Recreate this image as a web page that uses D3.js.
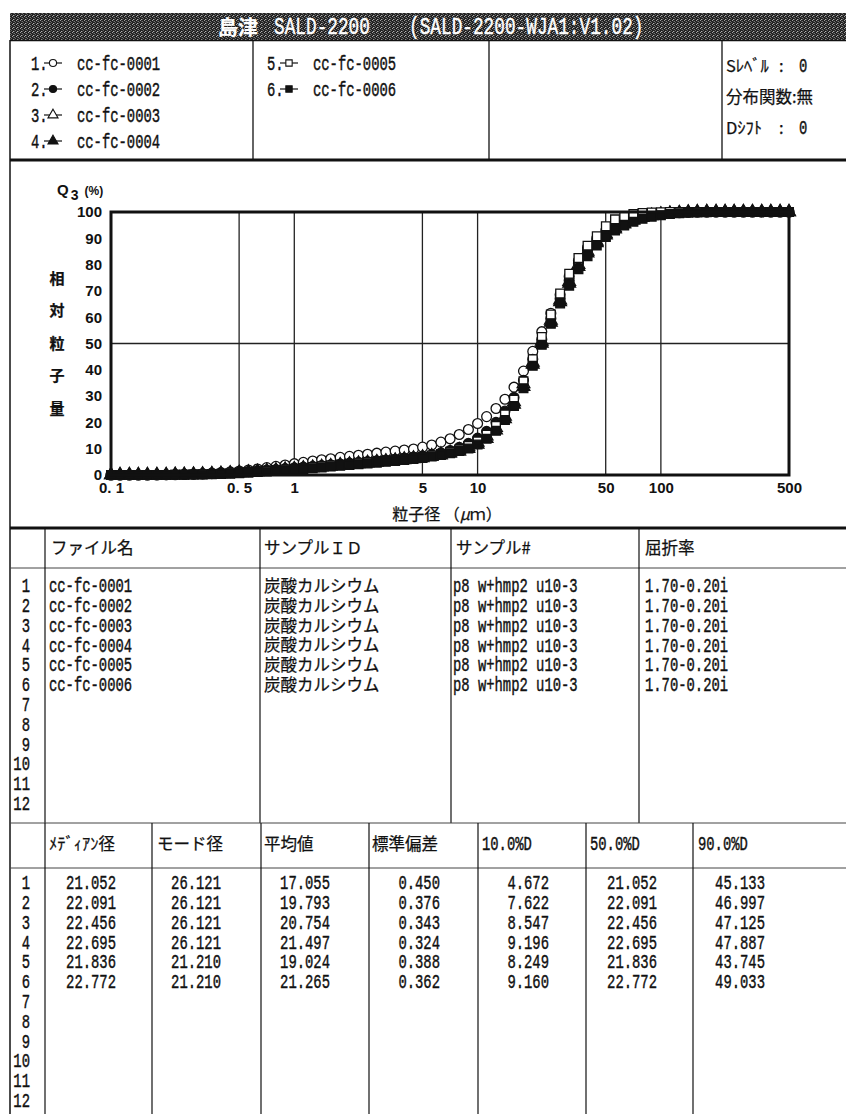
<!DOCTYPE html>
<html lang="ja">
<head>
<meta charset="utf-8">
<title>SALD-2200</title>
<script src="https://cdn.jsdelivr.net/npm/d3@7"></script>
<style>
  html, body { margin: 0; padding: 0; background: #fff; }
  svg { display: block; }
  .tick text { font-family: "Liberation Sans", Arial, sans-serif; font-weight: bold; font-size: 15px; fill: #111; }
</style>
</head>
<body>
<div id="chart"></div>
<script>
// 粒子径 (µm)
const sizes = [0.1, 0.112, 0.126, 0.141, 0.158, 0.178, 0.2, 0.224, 0.251, 0.282, 0.316, 0.355, 0.398, 0.447, 0.501,
  0.562, 0.631, 0.708, 0.794, 0.891, 1.0, 1.12, 1.26, 1.41, 1.58, 1.78, 2.0, 2.24, 2.51, 2.82,
  3.16, 3.55, 3.98, 4.47, 5.01, 5.62, 6.31, 7.08, 7.94, 8.91, 10, 11.2, 12.6, 14.1, 15.8,
  17.8, 20, 22.4, 25.1, 28.2, 31.6, 35.5, 39.8, 44.7, 50.1, 56.2, 63.1, 70.8, 79.4, 89.1,
  100, 112, 126, 141, 158, 178, 200, 224, 251, 282, 316, 355, 398, 447, 500];

// Q3 (%) 積算分布
const q3_1 = [0, 0, 0, 0, 0, 0.1, 0.1, 0.2, 0.3, 0.4, 0.5, 0.7, 0.9, 1.2, 1.5,
  1.9, 2.3, 2.8, 3.3, 3.8, 4.3, 4.8, 5.3, 5.8, 6.2, 6.7, 7.1, 7.5, 7.9, 8.3,
  8.7, 9.1, 9.5, 9.9, 10.6, 11.4, 12.5, 13.8, 15.4, 17.3, 19.6, 22.2, 25.3, 28.8, 33.4,
  39.5, 47.0, 54.5, 61.5, 68.5, 75.5, 81.5, 86.5, 90.0, 93.0, 95.3, 96.9, 98.0, 98.7, 99.2,
  99.5, 99.7, 99.9, 100, 100, 100, 100, 100, 100, 100, 100, 100, 100, 100, 100];
const q3_2 = [0, 0, 0, 0, 0, 0, 0.1, 0.1, 0.2, 0.3, 0.4, 0.5, 0.7, 0.9, 1.1,
  1.3, 1.6, 1.9, 2.1, 2.4, 2.7, 3.0, 3.3, 3.6, 3.9, 4.2, 4.5, 4.8, 5.1, 5.4,
  5.7, 6.0, 6.4, 6.8, 7.2, 7.7, 8.4, 9.3, 10.5, 12.0, 14.0, 16.6, 20.0, 24.3, 29.5,
  36.0, 44.0, 51.5, 59.5, 67.0, 74.0, 80.5, 85.5, 89.0, 91.8, 94.0, 95.8, 97.0, 98.0, 98.7,
  99.2, 99.5, 99.7, 99.9, 100, 100, 100, 100, 100, 100, 100, 100, 100, 100, 100];
const q3_3 = [0, 0, 0, 0, 0, 0, 0, 0.1, 0.1, 0.2, 0.3, 0.4, 0.5, 0.7, 0.9,
  1.1, 1.3, 1.6, 1.8, 2.1, 2.3, 2.6, 2.9, 3.2, 3.5, 3.8, 4.1, 4.4, 4.7, 5.0,
  5.3, 5.6, 6.0, 6.4, 6.8, 7.3, 7.9, 8.6, 9.5, 10.7, 12.4, 14.8, 18.0, 22.3, 27.8,
  34.6, 42.8, 50.8, 58.8, 66.5, 73.5, 80.0, 85.0, 88.8, 91.7, 93.9, 95.7, 97.0, 98.0, 98.7,
  99.2, 99.5, 99.7, 99.9, 100, 100, 100, 100, 100, 100, 100, 100, 100, 100, 100];
const q3_4 = [0, 0, 0, 0, 0, 0, 0, 0.1, 0.1, 0.2, 0.2, 0.3, 0.4, 0.6, 0.8,
  1.0, 1.2, 1.4, 1.6, 1.9, 2.1, 2.4, 2.7, 3.0, 3.3, 3.6, 3.9, 4.2, 4.5, 4.8,
  5.1, 5.4, 5.7, 6.1, 6.5, 7.0, 7.5, 8.2, 9.0, 10.0, 11.6, 13.8, 17.0, 21.3, 26.8,
  33.6, 42.0, 50.0, 58.0, 65.8, 72.8, 79.2, 84.3, 88.2, 91.2, 93.5, 95.4, 96.8, 97.8, 98.5,
  99.0, 99.4, 99.6, 99.8, 99.9, 100, 100, 100, 100, 100, 100, 100, 100, 100, 100];
const q3_5 = [0, 0, 0, 0, 0, 0, 0, 0.1, 0.1, 0.2, 0.3, 0.4, 0.5, 0.7, 0.9,
  1.1, 1.3, 1.6, 1.9, 2.1, 2.4, 2.7, 3.0, 3.3, 3.6, 3.9, 4.2, 4.5, 4.8, 5.1,
  5.4, 5.7, 6.1, 6.5, 6.9, 7.4, 8.0, 8.8, 9.7, 11.0, 12.8, 15.3, 18.6, 23.0, 28.6,
  35.6, 44.0, 52.5, 61.0, 69.0, 76.5, 82.5, 87.2, 90.8, 94.6, 97.2, 98.5, 99.2, 99.6, 99.8,
  99.9, 100, 100, 100, 100, 100, 100, 100, 100, 100, 100, 100, 100, 100, 100];
const q3_6 = [0, 0, 0, 0, 0, 0, 0, 0.1, 0.1, 0.2, 0.2, 0.3, 0.4, 0.5, 0.7,
  0.9, 1.1, 1.3, 1.5, 1.8, 2.0, 2.3, 2.6, 2.9, 3.2, 3.5, 3.8, 4.1, 4.4, 4.7,
  5.0, 5.3, 5.7, 6.1, 6.5, 7.0, 7.6, 8.3, 9.1, 10.1, 11.6, 13.8, 16.8, 20.9, 26.2,
  33.0, 41.5, 49.5, 57.5, 65.2, 72.0, 78.2, 83.2, 87.3, 90.5, 93.0, 94.9, 96.3, 97.4, 98.2,
  98.8, 99.2, 99.5, 99.7, 99.8, 99.9, 100, 100, 100, 100, 100, 100, 100, 100, 100];

const fileNames = ["cc-fc-0001", "cc-fc-0002", "cc-fc-0003", "cc-fc-0004", "cc-fc-0005", "cc-fc-0006"];
const sampleIds = ["炭酸カルシウム", "炭酸カルシウム", "炭酸カルシウム", "炭酸カルシウム", "炭酸カルシウム", "炭酸カルシウム"];
const sampleNos = ["p8 w+hmp2 u10-3", "p8 w+hmp2 u10-3", "p8 w+hmp2 u10-3", "p8 w+hmp2 u10-3", "p8 w+hmp2 u10-3", "p8 w+hmp2 u10-3"];
const refIndex = ["1.70-0.20i", "1.70-0.20i", "1.70-0.20i", "1.70-0.20i", "1.70-0.20i", "1.70-0.20i"];

const medians = ["21.052", "22.091", "22.456", "22.695", "21.836", "22.772"];
const modes = ["26.121", "26.121", "26.121", "26.121", "21.210", "21.210"];
const means = ["17.055", "19.793", "20.754", "21.497", "19.024", "21.265"];
const stdDevs = ["0.450", "0.376", "0.343", "0.324", "0.388", "0.362"];
const d10 = ["4.672", "7.622", "8.547", "9.196", "8.249", "9.160"];
const d50 = ["21.052", "22.091", "22.456", "22.695", "21.836", "22.772"];
const d90 = ["45.133", "46.997", "47.125", "47.887", "43.745", "49.033"];

const xTicks = [0.1, 0.5, 1, 5, 10, 50, 100, 500];
const xTickLabels = ["0. 1", "0. 5", "1", "5", "10", "50", "100", "500"];
const yTicks = [0, 10, 20, 30, 40, 50, 60, 70, 80, 90, 100];
const xGrid = [0.5, 1, 5, 10, 50, 100];
const yGrid = [50];

const table1Heads = ["ファイル名", "サンプルＩＤ", "サンプル#", "屈折率"];
const table2Heads = ["ﾒﾃﾞｨｱﾝ径", "モード径", "平均値", "標準偏差", "10.0%D", "50.0%D", "90.0%D"];

const series = [q3_1, q3_2, q3_3, q3_4, q3_5, q3_6];
const symbols = [d3.symbolCircle, d3.symbolCircle, d3.symbolTriangle, d3.symbolTriangle, d3.symbolSquare, d3.symbolSquare];
const filled = [false, true, false, true, false, true];

const W = 846, H = 1114;
const svg = d3.select("#chart").append("svg").attr("width", W).attr("height", H);
svg.append("rect").attr("width", W).attr("height", H).attr("fill", "#fff");

// 網掛け（タイトル帯）
const pat = svg.append("defs").append("pattern")
  .attr("id", "screen").attr("width", 4).attr("height", 4).attr("patternUnits", "userSpaceOnUse");
pat.append("rect").attr("width", 4).attr("height", 4).attr("fill", "#222");
[[0, 0, "#a0a0a0"], [2, 1, "#777"], [1, 3, "#b0b0b0"], [3, 2, "#666"], [2, 3, "#555"], [1, 1, "#444"]].forEach(p => {
  pat.append("rect").attr("x", p[0]).attr("y", p[1]).attr("width", 1).attr("height", 1).attr("fill", p[2]);
});

function mono(g, x, y, str, opt = {}) {
  return g.append("text")
    .attr("transform", `translate(${x},${y}) scale(${opt.sx || 0.66},1)`)
    .attr("text-anchor", opt.anchor || "start")
    .attr("dy", "0.34em")
    .attr("font-family", '"Liberation Mono", "DejaVu Sans Mono", monospace')
    .attr("font-size", opt.size || 21)
    .attr("font-weight", opt.weight || "normal")
    .attr("fill", opt.fill || "#111")
    .attr("stroke", opt.fill || "#111").attr("stroke-width", 0.45)
    .text(str);
}
function jp(g, x, y, str, opt = {}) {
  return g.append("text")
    .attr("x", x).attr("y", y)
    .attr("text-anchor", opt.anchor || "start")
    .attr("dominant-baseline", "central")
    .attr("font-family", '"Noto Sans CJK JP", sans-serif')
    .attr("font-size", opt.size || 16.5)
    .attr("font-weight", opt.weight || "normal")
    .attr("fill", opt.fill || "#111")
    .attr("stroke", opt.fill || "#111").attr("stroke-width", 0.25)
    .text(str);
}
function hline(y, x1, x2, w, c) {
  svg.append("line").attr("x1", x1).attr("x2", x2).attr("y1", y).attr("y2", y)
    .attr("stroke", c || "#111").attr("stroke-width", w || 1);
}
function vline(x, y1, y2, w, c) {
  svg.append("line").attr("x1", x).attr("x2", x).attr("y1", y1).attr("y2", y2)
    .attr("stroke", c || "#111").attr("stroke-width", w || 1);
}

// タイトル
svg.append("rect").attr("x", 10).attr("y", 13).attr("width", W - 10).attr("height", 27).attr("fill", "url(#screen)");
jp(svg, 218, 26, "島津", { size: 20, weight: "bold", fill: "#fff" });
mono(svg, 274, 26, "SALD-2200", { size: 24, sx: 0.74, fill: "#fff" });
mono(svg, 409, 26, "(SALD-2200-WJA1:V1.02)", { size: 24, sx: 0.74, fill: "#fff" });

// 枠線
vline(10, 40, H, 1.5);
hline(40.5, 10, W, 1.5);
[253, 489, 722].forEach(x => vline(x, 40, 160, 1.3));
hline(160, 10, W, 3);
hline(528, 10, W, 3);
hline(568, 10, W, 1, "#444");
[45, 260, 451, 639].forEach(x => vline(x, 528, 823, 1.2));
hline(823, 10, W, 1, "#444");
hline(868, 10, W, 1, "#444");
[45, 152, 261, 369, 478, 586, 693].forEach(x => vline(x, 823, H, 1.2));

// 凡例
const legendG = svg.append("g");
const legendPos = [[31, 63], [31, 89], [31, 115], [31, 141], [267, 63], [267, 89]];
fileNames.forEach((name, i) => {
  const [x0, y0] = legendPos[i];
  mono(legendG, x0, y0, (i + 1) + ".");
  legendG.append("line").attr("x1", x0 + 13).attr("x2", x0 + 31).attr("y1", y0).attr("y2", y0)
    .attr("stroke", "#111").attr("stroke-width", 1.2);
  legendG.append("path")
    .attr("transform", `translate(${x0 + 22},${y0})`)
    .attr("d", d3.symbol(symbols[i], symbols[i] === d3.symbolTriangle ? 44 : 40)())
    .attr("fill", filled[i] ? "#111" : "#fff").attr("stroke", "#111").attr("stroke-width", 1.1);
  mono(legendG, x0 + 46, y0, name);
});
jp(legendG, 726, 65, "Sﾚﾍﾞﾙ");
jp(legendG, 779, 65, ":");
mono(legendG, 799, 65, "0");
jp(legendG, 726, 96, "分布関数:無");
jp(legendG, 726, 127, "Dｼﾌﾄ");
jp(legendG, 779, 127, ":");
mono(legendG, 799, 127, "0");

// グラフ
const plot = { left: 111, right: 789, top: 212, bottom: 475 };
const x = d3.scaleLog().domain([0.1, 500]).range([plot.left, plot.right]);
const y = d3.scaleLinear().domain([0, 100]).range([plot.bottom, plot.top]);

const grid = svg.append("g");
grid.selectAll(".vg").data(xGrid).join("line")
  .attr("x1", d => x(d)).attr("x2", d => x(d)).attr("y1", plot.top).attr("y2", plot.bottom)
  .attr("stroke", "#222").attr("stroke-width", 1.3);
grid.selectAll(".hg").data(yGrid).join("line")
  .attr("x1", plot.left).attr("x2", plot.right).attr("y1", d => y(d)).attr("y2", d => y(d))
  .attr("stroke", "#222").attr("stroke-width", 1.3);

svg.append("g")
  .attr("transform", `translate(${plot.left},0)`)
  .call(d3.axisLeft(y).tickValues(yTicks).tickSize(0).tickPadding(9))
  .call(g => g.select(".domain").remove());
svg.append("g")
  .attr("transform", `translate(0,${plot.bottom})`)
  .call(d3.axisBottom(x).tickValues(xTicks).tickSize(0).tickPadding(7)
    .tickFormat((d, i) => xTickLabels[i]))
  .call(g => g.select(".domain").remove());

// 軸ラベル
const q = svg.append("text").attr("x", 57).attr("y", 195)
  .attr("font-family", '"Liberation Sans", Arial, sans-serif').attr("font-weight", "bold").attr("fill", "#111");
q.append("tspan").attr("font-size", 15).text("Q");
q.append("tspan").attr("font-size", 14).attr("dx", 2).attr("dy", 5).text("3");
q.append("tspan").attr("font-size", 12).attr("dx", 6).attr("dy", -5).text("(%)");
["相", "対", "粒", "子", "量"].forEach((c, i) => {
  jp(svg, 57, 277 + i * 32.5, c, { size: 15, weight: "bold", anchor: "middle" });
});
const xt = jp(svg, 447, 513, "", { size: 16, anchor: "middle" });
xt.append("tspan").text("粒子径 （");
xt.append("tspan").attr("font-style", "italic").text("μ");
xt.append("tspan").text("ｍ）");

// 測定点
const marks = svg.append("g");
series.forEach((vals, s) => {
  const sym = d3.symbol(symbols[s], symbols[s] === d3.symbolTriangle ? 70 : 76);
  marks.append("g").selectAll("path").data(vals).join("path")
    .attr("transform", (d, i) => `translate(${x(sizes[i])},${y(d)})`)
    .attr("d", sym())
    .attr("fill", filled[s] ? "#111" : "#fff")
    .attr("stroke", "#111").attr("stroke-width", 1.3);
});

svg.append("rect")
  .attr("x", plot.left).attr("y", plot.top)
  .attr("width", plot.right - plot.left).attr("height", plot.bottom - plot.top)
  .attr("fill", "none").attr("stroke", "#111").attr("stroke-width", 3);

// 表１
const t1 = svg.append("g");
[51, 264, 456, 645].forEach((xx, i) => jp(t1, xx, 547, table1Heads[i]));
const rowNums = d3.range(1, 13);
rowNums.forEach((n, i) => mono(t1, 30, 585 + i * 19.8, String(n), { anchor: "end" }));
fileNames.forEach((d, i) => mono(t1, 49, 585 + i * 19.8, d));
sampleIds.forEach((d, i) => jp(t1, 264, 585 + i * 19.8, d));
sampleNos.forEach((d, i) => mono(t1, 453, 585 + i * 19.8, d));
refIndex.forEach((d, i) => mono(t1, 645, 585 + i * 19.8, d));

// 表２
const t2 = svg.append("g");
[49, 157, 264, 372, 482, 590, 698].forEach((xx, i) => {
  if (/^[0-9]/.test(table2Heads[i])) mono(t2, xx, 843, table2Heads[i]);
  else jp(t2, xx, 843, table2Heads[i]);
});
rowNums.forEach((n, i) => mono(t2, 30, 882 + i * 19.8, String(n), { anchor: "end" }));
const cols2 = [medians, modes, means, stdDevs, d10, d50, d90];
const right2 = [116, 221, 330, 440, 549, 657, 765];
cols2.forEach((col, c) => {
  col.forEach((d, i) => mono(t2, right2[c], 882 + i * 19.8, d, { anchor: "end" }));
});
</script>
</body>
</html>
